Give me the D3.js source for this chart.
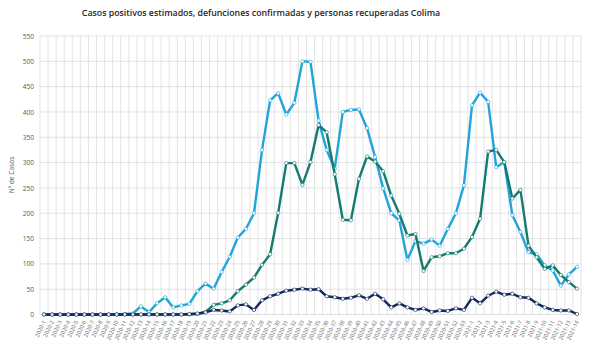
<!DOCTYPE html>
<html>
<head>
<meta charset="utf-8">
<script src="https://cdn.jsdelivr.net/npm/d3@7/dist/d3.min.js"></script>
<style>
  html, body { margin: 0; padding: 0; background: #fff; }
  svg { display: block; font-family: "Open Sans", "Noto Sans", sans-serif; }
</style>
</head>
<body>
<svg id="chart" width="589" height="348"></svg>
<script>
// Epidemiological weeks 2020-1 … 2020-53, 2021-1 … 2021-14
const weeks = [];
for (let w = 1; w <= 53; w++) weeks.push("2020-" + w);
for (let w = 1; w <= 14; w++) weeks.push("2021-" + w);

const casosPositivos = [
  0, 0, 0, 0, 0, 0, 0, 0, 0, 0,
  1, 2, 16, 5, 22, 34, 14, 18, 21, 46,
  61, 51, 84, 114, 152, 169, 200, 325, 423, 437,
  395, 418, 500, 499, 383, 325, 288, 400, 404, 405,
  368, 311, 249, 200, 186, 108, 145, 140, 148, 136,
  169, 200, 255, 413, 438, 420, 291, 301, 196, 163,
  123, 119, 97, 87, 57, 79, 94
];
const recuperadas = [
  0, 0, 0, 0, 0, 0, 0, 0, 0, 0,
  0, 0, 0, 0, 0, 0, 0, 0, 0, 1,
  5, 19, 22, 28, 46, 59, 73, 98, 119, 201,
  299, 299, 256, 301, 374, 360, 277, 187, 186, 268,
  312, 302, 283, 235, 199, 156, 159, 86, 113, 115,
  121, 121, 130, 153, 189, 322, 325, 301, 229, 246,
  136, 113, 90, 97, 78, 64, 51
];
const defunciones = [
  0, 0, 0, 0, 0, 0, 0, 0, 0, 0,
  0, 0, 0, 0, 0, 0, 0, 0, 1, 2,
  4, 9, 8, 6, 18, 20, 9, 28, 36, 41,
  47, 49, 51, 49, 50, 36, 34, 31, 33, 38,
  31, 41, 30, 14, 22, 14, 9, 12, 5, 8,
  7, 12, 9, 33, 22, 37, 45, 39, 41, 34,
  33, 22, 14, 9, 8, 8, 1
];
const yTicks = [0, 50, 100, 150, 200, 250, 300, 350, 400, 450, 500, 550];

const svg = d3.select("#chart");
const plotLeft = 40, plotRight = 581, plotTop = 36, plotBottom = 314.5;

const x = d3.scaleBand().domain(weeks).range([plotLeft, plotRight]).padding(0);
const y = d3.scaleLinear().domain([0, 550]).range([plotBottom, plotTop]);
const cx = d => x(d) + x.bandwidth() / 2;

// Title
svg.append("text")
  .attr("x", 261).attr("y", 16)
  .attr("text-anchor", "middle")
  .attr("font-size", 8.8).attr("font-weight", 600)
  .attr("fill", "#262626")
  .text("Casos positivos estimados, defunciones confirmadas y personas recuperadas Colima");

// Horizontal gridlines
svg.append("g").selectAll("line").data(yTicks).join("line")
  .attr("x1", plotLeft).attr("x2", plotRight)
  .attr("y1", d => y(d)).attr("y2", d => y(d))
  .attr("stroke", "#dcdcdc").attr("stroke-width", 0.8);

// Vertical gridlines at week boundaries
const bounds = weeks.map(w => x(w)).concat([plotRight]);
svg.append("g").selectAll("line").data(bounds).join("line")
  .attr("x1", d => d).attr("x2", d => d)
  .attr("y1", plotTop).attr("y2", plotBottom)
  .attr("stroke", "#dcdcdc").attr("stroke-width", 0.8);

// Y axis
const yAxis = svg.append("g")
  .attr("transform", `translate(${plotLeft},0)`)
  .call(d3.axisLeft(y).tickValues(yTicks).tickSize(0).tickPadding(6));
yAxis.select(".domain").remove();
yAxis.selectAll("text").attr("fill", "#595959").attr("font-size", 6.6)
  .attr("font-family", "Open Sans, sans-serif");

// X axis
const xAxis = svg.append("g")
  .attr("transform", `translate(0,${plotBottom})`)
  .call(d3.axisBottom(x).tickSize(0).tickPadding(0));
xAxis.select(".domain").remove();
xAxis.selectAll("text")
  .attr("fill", "#6a6a6a").attr("font-size", 5.6)
  .attr("font-family", "Open Sans, sans-serif")
  .attr("text-anchor", "end")
  .attr("dy", 0)
  .attr("transform", "translate(2,7) rotate(-65)");

// Y axis title
svg.append("text")
  .attr("transform", "translate(14,175) rotate(-90)")
  .attr("text-anchor", "middle")
  .attr("font-size", 6.6).attr("fill", "#595959")
  .text("Nº de Casos");

// Series
const series = [
  { name: "Casos positivos estimados", values: casosPositivos, color: "#20a4da" },
  { name: "Personas recuperadas", values: recuperadas, color: "#147b70" },
  { name: "Defunciones confirmadas", values: defunciones, color: "#132a5c" }
];

const line = d3.line()
  .x((d, i) => cx(weeks[i]))
  .y(d => y(d));

series.forEach(s => {
  const g = svg.append("g");
  g.append("path")
    .datum(s.values)
    .attr("fill", "none")
    .attr("stroke", s.color)
    .attr("stroke-width", 2.4)
    .attr("stroke-linejoin", "round")
    .attr("d", line);
  g.selectAll("circle").data(s.values).join("circle")
    .attr("cx", (d, i) => cx(weeks[i]))
    .attr("cy", d => y(d))
    .attr("r", 1.7)
    .attr("fill", "#fff")
    .attr("stroke", s.color)
    .attr("stroke-width", 0.6);
});
</script>
</body>
</html>
